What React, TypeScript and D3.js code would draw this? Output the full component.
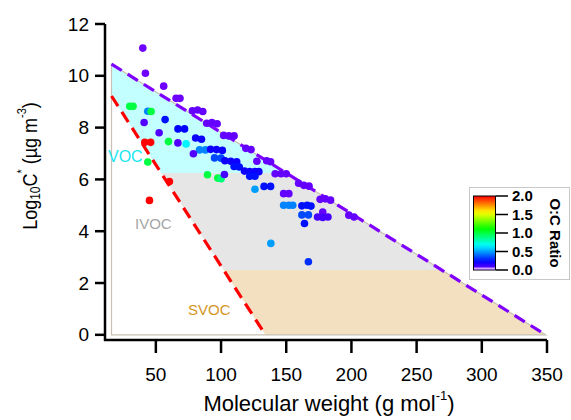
import React from 'react';
import * as d3 from 'd3';

const W = 571;
const H = 420;

const xTicks = [50, 100, 150, 200, 250, 300, 350];
const yTicks = [0, 2, 4, 6, 8, 10, 12];
const ocTicks = [0, 0.5, 1, 1.5, 2];

// volatility boundary lines: [molecular weight, log10 C*]
const upperLine = [[16, 10.45], [349, 0]];
const lowerLine = [[16, 9.22], [134, 0]];
const vocCut = 6.25;
const svocCut = 2.5;

// measured compounds
const mw = [
  40, 42, 56, 65.5, 68.5, 78, 82, 86, 89, 93, 97, 102, 106, 110, 119, 123,
  127.5, 135, 138, 141.5, 146, 150, 159.5, 163.5, 167.5, 148, 152, 176, 180, 184,
  178, 174, 178, 182, 198, 202,
  30, 32.5, 43.8, 46.4, 41, 57.1, 52.5, 67, 72, 41.5, 46, 59.7, 66.9, 73.2,
  80.5, 85, 83.5, 88, 78.8, 43.8, 92, 96.5, 101, 95, 100, 103, 107.5, 112,
  110, 114, 118, 122, 126, 129, 122, 126, 89.6, 97.5, 100, 102.6, 45.1, 60.4,
  126, 133, 138, 148, 152, 155, 162, 166, 169, 162, 167, 164, 138.2, 167,
];
const logC = [
  11.07, 10.1, 9.6, 9.13, 9.13, 8.65, 8.68, 8.62, 8.17, 8.2, 8.15, 7.7, 7.68, 7.68, 7.2, 7.15,
  6.7, 6.72, 6.68, 6.22, 6.22, 6.22, 5.85, 5.77, 5.74, 5.45, 5.45, 5.23, 5.25, 5.2,
  4.74, 4.55, 4.53, 4.55, 4.62, 4.55,
  8.82, 8.82, 8.63, 8.62, 8.2, 8.31, 7.8, 7.95, 7.95, 7.43, 7.43, 7.46, 7.41, 7.37,
  7.6, 7.55, 7.14, 7.14, 6.99, 6.67, 7.16, 7.15, 7.12, 6.83, 6.82, 6.72, 6.7, 6.68,
  6.5, 6.48, 6.32, 6.3, 6.3, 6.3, 6.12, 6.12, 6.18, 6.05, 6.03, 6.19, 5.19, 5.92,
  5.62, 5.73, 5.73, 5.0, 5.0, 5.0, 4.98, 5.0, 4.97, 4.63, 4.63, 4.3, 3.53, 2.82,
];
const oc = [
  0.03, 0.03, 0.03, 0.03, 0.03, 0.05, 0.05, 0.05, 0.05, 0.05, 0.05, 0.05, 0.05, 0.05, 0.05, 0.05,
  0.05, 0.05, 0.05, 0.05, 0.05, 0.05, 0.05, 0.05, 0.05, 0.05, 0.05, 0.05, 0.05, 0.05,
  0.05, 0.1, 0.1, 0.1, 0.05, 0.05,
  1.0, 1.0, 0.45, 1.0, 0.08, 0.25, 0.08, 0.22, 0.22, 2.0, 2.0, 1.0, 0.08, 0.65,
  0.2, 0.2, 0.45, 0.45, 0.08, 1.0, 0.2, 0.2, 0.2, 0.35, 0.35, 0.2, 0.2, 0.2,
  0.25, 0.25, 0.2, 0.2, 0.2, 0.2, 0.25, 0.25, 1.0, 1.0, 0.9, 0.1, 2.0, 2.0,
  0.5, 0.25, 0.25, 0.45, 0.45, 0.45, 0.25, 0.25, 0.25, 0.35, 0.35, 0.25, 0.5, 0.3,
];

const FONT = '"Liberation Sans", Arial, sans-serif';
const NARROW = '"Liberation Sans Narrow", "Liberation Sans", Arial, sans-serif';

export default function App() {
  const x = d3.scaleLinear().domain([11, 350]).range([105, 547]);
  const y = d3.scaleLinear().domain([-0.2, 12]).range([340, 24]);
  const hue = d3.scaleLinear().domain([0, 2]).range([270, 0]);
  const color = (v: number) => d3.hsl(hue(v), 1, 0.5).formatHex();
  const cbar = d3.scaleLinear().domain([0, 2]).range([270, 196]);

  // x position of a boundary line at a given log C*
  const xAt = (line: number[][], v: number) => {
    const [[x0, y0], [x1, y1]] = line;
    return x0 + ((y0 - v) / (y0 - y1)) * (x1 - x0);
  };
  const poly = (pts: number[][]) => pts.map(([a, b]) => `${x(a)},${y(b)}`).join(' ');
  const seg = (line: number[][]) =>
    d3.line()(line.map(([a, b]) => [x(a), y(b)] as [number, number])) || '';

  const voc = [upperLine[0], [xAt(upperLine, vocCut), vocCut], [xAt(lowerLine, vocCut), vocCut], lowerLine[0]];
  const ivoc = [[xAt(lowerLine, vocCut), vocCut], [xAt(upperLine, vocCut), vocCut],
    [xAt(upperLine, svocCut), svocCut], [xAt(lowerLine, svocCut), svocCut]];
  const svoc = [[xAt(lowerLine, svocCut), svocCut], [xAt(upperLine, svocCut), svocCut], upperLine[1], lowerLine[1]];
  const outline = [upperLine[0], upperLine[1], [upperLine[0][0], 0]];

  const stops = d3.range(0, 1.01, 0.05);

  return (
    <svg width={W} height={H} style={{ position: 'absolute', left: 0, top: 0, background: '#fff' }} fontFamily={FONT}>
      <defs>
        <linearGradient id="ocgrad" x1="0" y1="1" x2="0" y2="0">
          {stops.map(t => <stop key={t} offset={`${t * 100}%`} stopColor={color(t * 2)} />)}
        </linearGradient>
      </defs>

      {/* volatility regions */}
      <polygon points={poly(voc)} fill="#c4ffff" />
      <polygon points={poly(ivoc)} fill="#e6e6e6" />
      <polygon points={poly(svoc)} fill="#f2e0c0" />
      <polygon points={poly(outline)} fill="none" stroke="#c8c0b4" strokeWidth={1.2} />

      <path d={seg(lowerLine)} stroke="#ff0000" strokeWidth={3.2} strokeDasharray="12 7" fill="none" />
      <path d={seg(upperLine)} stroke="#7f00ff" strokeWidth={3.2} strokeDasharray="12 7" fill="none" />

      <text x={108} y={162} fontSize={16} fill="#19e6f2">VOC</text>
      <text x={135} y={229} fontSize={15} fill="#a6a6a6">IVOC</text>
      <text x={188} y={315} fontSize={15} fill="#d4961e">SVOC</text>

      {/* compounds */}
      {mw.map((m, i) => (
        <circle key={i} cx={x(m)} cy={y(logC[i])} r={3.8} fill={color(oc[i])} />
      ))}

      {/* axes */}
      <line x1={105} x2={105} y1={y(12)} y2={341} stroke="#000" strokeWidth={2.5} />
      <line x1={104} x2={x(350)} y1={340} y2={340} stroke="#000" strokeWidth={2.5} />
      {yTicks.map(t => (
        <g key={t}>
          <line x1={95} x2={105} y1={y(t)} y2={y(t)} stroke="#000" strokeWidth={2.5} />
          <text x={89} y={y(t)} dy="0.35em" textAnchor="end" fontSize={19}>{t}</text>
        </g>
      ))}
      {xTicks.map(t => (
        <g key={t}>
          <line x1={x(t)} x2={x(t)} y1={340} y2={353} stroke="#000" strokeWidth={2.5} />
          <text x={x(t)} y={381} textAnchor="middle" fontSize={19}>{t}</text>
        </g>
      ))}

      <text x={329} y={411} textAnchor="middle" fontSize={22}>
        Molecular weight (g mol<tspan fontSize={13} dy={-11}>-1</tspan><tspan dy={11}>)</tspan>
      </text>
      <text transform="translate(37,166) scale(1.15,1) rotate(-90)" textAnchor="middle" fontSize={18}>
        Log<tspan fontSize={12} dy={3}>10</tspan><tspan dy={-3}>C</tspan>
        <tspan fontSize={11} dy={-10}>*</tspan><tspan dy={10}> (µg m</tspan>
        <tspan fontSize={11} dy={-10}>-3</tspan><tspan dy={10}>)</tspan>
      </text>

      {/* O:C colour scale */}
      <rect x={469.5} y={187.5} width={100} height={92} fill="#fff" stroke="#c8c8c8" strokeWidth={1} />
      <rect x={473.5} y={196} width={22} height={74} fill="url(#ocgrad)" stroke="#000" strokeWidth={1} />
      <rect x={474} y={267.5} width={21} height={2} fill="#c9a6ff" />
      {ocTicks.map(t => (
        <g key={t}>
          <line x1={496} x2={508} y1={cbar(t)} y2={cbar(t)} stroke="#000" strokeWidth={1.5} />
          <text x={512} y={cbar(t)} dy="0.36em" fontSize={15} fontWeight="bold" fontFamily={NARROW}>
            {t.toFixed(1)}
          </text>
        </g>
      ))}
      <text transform="translate(550,233) rotate(90)" textAnchor="middle" fontSize={15} fontWeight="bold"
        fontFamily={NARROW}>O:C Ratio</text>
    </svg>
  );
}
